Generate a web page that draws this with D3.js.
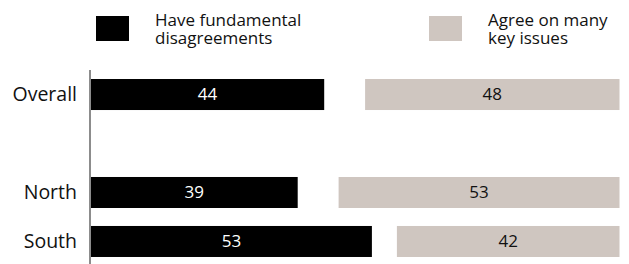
<!DOCTYPE html>
<html>
<head>
<meta charset="utf-8">
<script src="https://cdn.jsdelivr.net/npm/d3@7"></script>
<style>
  body { margin: 0; background: #fff; }
  text { font-family: "Open Sans", sans-serif; }
</style>
</head>
<body>
<svg></svg>
<script>
// data
var categories = ["Overall", "", "North", "South"]
var disagree = [44, null, 39, 53]
var agree = [48, null, 53, 42]
var seriesNames = [["Have fundamental", "disagreements"], ["Agree on many", "key issues"]]
var colors = ["#000000", "#cfc6c0"]

var screen = {width: 629, height: 264}
var margins = {top: 70, right: 10, bottom: -2, left: 90}

var svg = d3.select("svg")
    .attr("width", screen.width)
    .attr("height", screen.height)

var rows = categories.map(function (c, i) {
    return {name: c, key: "r" + i, d: disagree[i], a: agree[i]}
})

var yScale = d3.scaleBand()
    .domain(rows.map(function (r) { return r.key }))
    .range([margins.top, screen.height - margins.bottom])
    .paddingInner(0.367)
    .paddingOuter(0.184)

// 5.3px per point
var xScale = d3.scaleLinear()
    .domain([0, 100])
    .range([0, 530])

var x0 = margins.left + 1
var rightEdge = 619.5

//left axis line
svg.append("line")
    .attr("x1", margins.left).attr("x2", margins.left)
    .attr("y1", margins.top).attr("y2", screen.height)
    .attr("stroke", "#8c8c8c")
    .attr("stroke-width", 2)

var data = rows.filter(function (r) { return r.d != null })

var g = svg.selectAll("g.row")
    .data(data)
    .enter()
    .append("g")
    .attr("class", "row")
    .attr("transform", function (r) { return "translate(0," + yScale(r.key) + ")" })

g.append("text")
    .text(function (r) { return r.name })
    .attr("x", 77)
    .attr("y", yScale.bandwidth() / 2)
    .attr("dy", "0.34em")
    .attr("text-anchor", "end")
    .attr("font-size", 19.5)
    .attr("fill", "#111")

//disagree bars from the axis
g.append("rect")
    .attr("x", x0)
    .attr("width", function (r) { return xScale(r.d) })
    .attr("height", yScale.bandwidth())
    .attr("fill", colors[0])

g.append("text")
    .text(function (r) { return r.d })
    .attr("x", function (r) { return x0 + xScale(r.d) / 2 })
    .attr("y", yScale.bandwidth() / 2)
    .attr("dy", "0.35em")
    .attr("text-anchor", "middle")
    .attr("font-size", 17)
    .attr("fill", "#fff")

//agree bars hang off the right edge
g.append("rect")
    .attr("x", function (r) { return rightEdge - xScale(r.a) })
    .attr("width", function (r) { return xScale(r.a) })
    .attr("height", yScale.bandwidth())
    .attr("fill", colors[1])

g.append("text")
    .text(function (r) { return r.a })
    .attr("x", function (r) { return rightEdge - xScale(r.a) / 2 })
    .attr("y", yScale.bandwidth() / 2)
    .attr("dy", "0.35em")
    .attr("text-anchor", "middle")
    .attr("font-size", 17)
    .attr("fill", "#111")

//legend
var legendX = [96, 429]
var lg = svg.selectAll("g.legend")
    .data(seriesNames)
    .enter()
    .append("g")
    .attr("class", "legend")
    .attr("transform", function (s, i) { return "translate(" + legendX[i] + ",16)" })

lg.append("rect")
    .attr("width", 33)
    .attr("height", 25)
    .attr("fill", function (s, i) { return colors[i] })

lg.append("text")
    .attr("y", 10)
    .attr("font-size", 17)
    .attr("fill", "#111")
    .selectAll("tspan")
    .data(function (s) { return s })
    .enter()
    .append("tspan")
    .attr("x", 59)
    .attr("dy", function (s, i) { return i == 0 ? 0 : 18 })
    .text(function (s) { return s })
</script>
</body>
</html>
